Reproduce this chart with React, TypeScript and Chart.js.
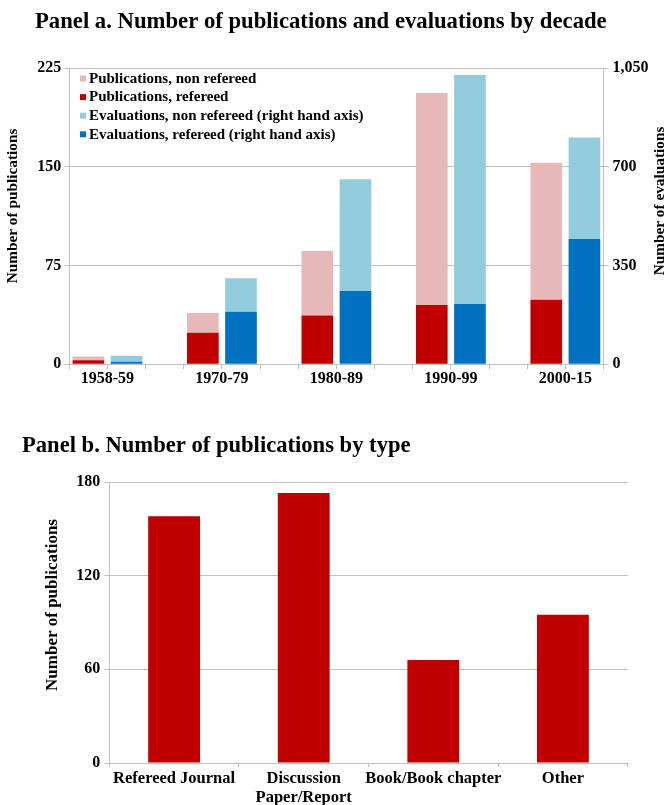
import React, { useEffect, useRef } from 'react';
import { Chart, registerables } from 'chart.js';

Chart.register(...registerables);

// ---------- Data ----------
const decades = ['1958-59', '1970-79', '1980-89', '1990-99', '2000-15'];
const pubRefereed = [3, 24, 37, 45, 49];
const pubNonRefereed = [3, 15, 49, 161, 104];
const evalRefereed = [9, 186, 260, 214, 444];
const evalNonRefereed = [21, 119, 396, 811, 360];
const leftTicks = [0, 75, 150, 225];
const rightTicks = [0, 350, 700, 1050];

const pubTypes: (string | string[])[] = ['Refereed Journal', ['Discussion', 'Paper/Report'], 'Book/Book chapter', 'Other'];
const pubTypeCounts = [158, 173, 66, 95];
const typeTicks = [0, 60, 120, 180];

// ---------- Styles ----------
const FONT = "'Liberation Serif', 'Times New Roman', serif";
const GRID = '#bfbfbf';
const RED = '#C00000';
const PINK = '#E6B9B8';
const BLUE = '#0070C0';
const LIGHTBLUE = '#93CDDD';

const SLOTS = decades.length * 3 - 1; // pub, eval, gap per decade
const boundaries = Array.from({ length: SLOTS + 1 }, (_, k) => k - 0.5);

function decadeLabel(v: number): string {
  const i = (v - 0.5) / 3;
  return Number.isInteger(i) && i >= 0 && i < decades.length ? decades[i] : '';
}

type Txt = { text: string; x: number; y: number; size: number; rotate?: boolean };

function textPlugin(id: string, items: Txt[]) {
  return {
    id,
    afterDraw(chart: any) {
      const ctx = chart.ctx;
      items.forEach((t) => {
        ctx.save();
        ctx.translate(t.x, t.y);
        if (t.rotate) ctx.rotate(-Math.PI / 2);
        ctx.font = `bold ${t.size}px ${FONT}`;
        ctx.fillStyle = '#000';
        ctx.textAlign = t.rotate ? 'center' : 'left';
        ctx.textBaseline = t.rotate ? 'middle' : 'alphabetic';
        ctx.fillText(t.text, 0, 0);
        ctx.restore();
      });
    },
  };
}

const legendItems = [
  { text: 'Publications, non refereed', color: PINK },
  { text: 'Publications, refereed', color: RED },
  { text: 'Evaluations, non refereed (right hand axis)', color: LIGHTBLUE },
  { text: 'Evaluations, refereed (right hand axis)', color: BLUE },
];

const legendPlugin = {
  id: 'insideLegend',
  afterDraw(chart: any) {
    const ctx = chart.ctx;
    ctx.save();
    ctx.font = `bold 15px ${FONT}`;
    ctx.textBaseline = 'middle';
    ctx.textAlign = 'left';
    legendItems.forEach((it, i) => {
      const cy = 78.5 + i * 18.6;
      ctx.fillStyle = it.color;
      ctx.fillRect(80, cy - 3, 6, 6);
      ctx.fillStyle = '#000';
      ctx.fillText(it.text, 89, cy + 0.5);
    });
    ctx.restore();
  },
};

function PanelA() {
  const ref = useRef<HTMLCanvasElement>(null);
  useEffect(() => {
    if (!ref.current) return;
    const tickFont = { family: FONT, size: 16, weight: 'bold' as const };
    const chart = new Chart(ref.current, {
      type: 'bar',
      data: {
        datasets: [
          {
            label: 'Publications, refereed',
            data: pubRefereed.map((v, i) => ({ x: 3 * i, y: v })),
            backgroundColor: RED,
            yAxisID: 'y',
            stack: 'pub',
          },
          {
            label: 'Publications, non refereed',
            data: pubNonRefereed.map((v, i) => ({ x: 3 * i, y: v })),
            backgroundColor: PINK,
            yAxisID: 'y',
            stack: 'pub',
          },
          {
            label: 'Evaluations, refereed (right hand axis)',
            data: evalRefereed.map((v, i) => ({ x: 3 * i + 1, y: v })),
            backgroundColor: BLUE,
            yAxisID: 'y1',
            stack: 'eval',
          },
          {
            label: 'Evaluations, non refereed (right hand axis)',
            data: evalNonRefereed.map((v, i) => ({ x: 3 * i + 1, y: v })),
            backgroundColor: LIGHTBLUE,
            yAxisID: 'y1',
            stack: 'eval',
          },
        ] as any,
      },
      options: {
        responsive: false,
        animation: false,
        layout: { padding: { top: 68, left: 0, right: 0, bottom: 0 } },
        datasets: { bar: { grouped: false, categoryPercentage: 1, barPercentage: 0.83 } } as any,
        plugins: { legend: { display: false }, tooltip: { enabled: false }, title: { display: false } },
        scales: {
          x: {
            type: 'linear',
            min: -0.5,
            max: SLOTS - 0.5,
            offset: false,
            stacked: true,
            afterBuildTicks: (s: any) => {
              s.ticks = boundaries.map((v) => ({ value: v }));
            },
            afterFit: (s: any) => {
              s.height = 35.7;
            },
            grid: { offset: false, drawOnChartArea: false, drawTicks: true, tickLength: 5, color: GRID },
            border: { display: true, color: GRID, width: 1 },
            ticks: {
              autoSkip: false,
              maxRotation: 0,
              padding: 0,
              color: '#000',
              font: tickFont,
              callback: (v: any) => decadeLabel(Number(v)),
            },
          },
          y: {
            position: 'left',
            min: 0,
            max: 225,
            stacked: true,
            afterBuildTicks: (s: any) => {
              s.ticks = leftTicks.map((v) => ({ value: v }));
            },
            afterFit: (s: any) => {
              s.width = 69.3;
            },
            grid: { color: GRID, tickLength: 5 },
            border: { display: true, color: GRID },
            ticks: { padding: 3, color: '#000', font: tickFont },
          },
          y1: {
            position: 'right',
            min: 0,
            max: 1050,
            stacked: true,
            afterBuildTicks: (s: any) => {
              s.ticks = rightTicks.map((v) => ({ value: v }));
            },
            afterFit: (s: any) => {
              s.width = 65.5;
            },
            grid: { drawOnChartArea: false, color: GRID, tickLength: 5 },
            border: { display: true, color: GRID },
            ticks: {
              padding: 4,
              color: '#000',
              font: tickFont,
              callback: (v: any) => Number(v).toLocaleString('en-US'),
            },
          },
        } as any,
      },
      plugins: [
        legendPlugin,
        textPlugin('titlesA', [
          { text: 'Panel a. Number of publications and evaluations by decade', x: 35, y: 28, size: 22.7 },
          { text: 'Number of publications', x: 13, y: 206, size: 15.3, rotate: true },
          { text: 'Number of evaluations', x: 660, y: 201, size: 15.3, rotate: true },
        ]),
      ],
    });
    return () => chart.destroy();
  }, []);
  return <canvas ref={ref} width={669} height={400} style={{ display: 'block' }} />;
}

function PanelB() {
  const ref = useRef<HTMLCanvasElement>(null);
  useEffect(() => {
    if (!ref.current) return;
    const tickFont = { family: FONT, size: 16, weight: 'bold' as const };
    const chart = new Chart(ref.current, {
      type: 'bar',
      data: {
        labels: pubTypes as any,
        datasets: [
          {
            label: 'Number of publications',
            data: pubTypeCounts,
            backgroundColor: RED,
            categoryPercentage: 1,
            barPercentage: 0.4,
          },
        ],
      },
      options: {
        responsive: false,
        animation: false,
        layout: { padding: { top: 82, left: 0, right: 41.3, bottom: 0 } },
        plugins: { legend: { display: false }, tooltip: { enabled: false }, title: { display: false } },
        scales: {
          x: {
            afterFit: (s: any) => {
              s.height = 42;
            },
            grid: { drawOnChartArea: false, drawTicks: true, tickLength: 4, color: GRID },
            border: { display: true, color: GRID },
            ticks: {
              autoSkip: false,
              maxRotation: 0,
              padding: 2,
              color: '#000',
              font: { family: FONT, size: 16.5, weight: 'bold' as const, lineHeight: 1.15 },
            },
          },
          y: {
            min: 0,
            max: 180,
            afterBuildTicks: (s: any) => {
              s.ticks = typeTicks.map((v) => ({ value: v }));
            },
            afterFit: (s: any) => {
              s.width = 109.3;
            },
            grid: { color: GRID, tickLength: 5 },
            border: { display: true, color: GRID },
            ticks: { padding: 4, color: '#000', font: tickFont },
          },
        } as any,
      },
      plugins: [
        textPlugin('titlesB', [
          { text: 'Panel b. Number of publications by type', x: 22, y: 52, size: 22.6 },
          { text: 'Number of publications', x: 53, y: 205, size: 17, rotate: true },
        ]),
      ],
    });
    return () => chart.destroy();
  }, []);
  return <canvas ref={ref} width={669} height={405} style={{ display: 'block' }} />;
}

export default function App() {
  return (
    <div style={{ position: 'absolute', left: 0, top: 0, width: 669, height: 805, background: '#fff' }}>
      <PanelA />
      <PanelB />
    </div>
  );
}
